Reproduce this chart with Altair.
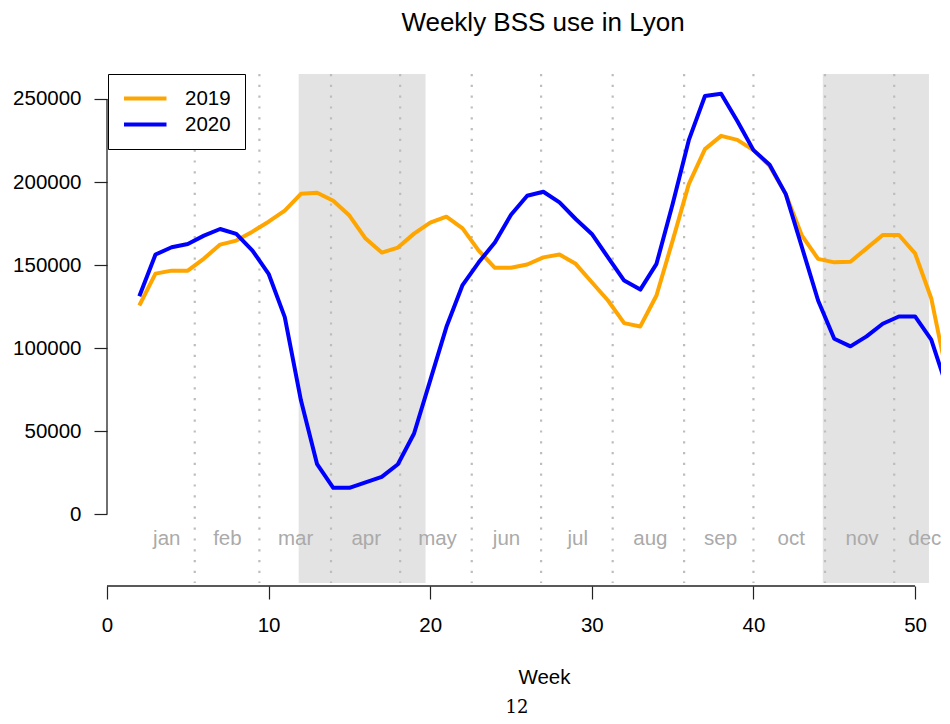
import altair as alt
import pandas as pd

# ---- data ----
weeks = list(range(2, 53))
use_2019 = [125600, 144800, 146600, 146600, 153900, 162300, 164700, 170100, 176100, 182700,
            192900, 193500, 188700, 179800, 165900, 157500, 160500, 168900, 175500, 179100,
            172100, 158700, 148300, 148300, 150300, 154600, 156300, 150700, 139600, 128600,
            115000, 113000, 131600, 164700, 198700, 219800, 227800, 225400, 219200, 209700,
            192700, 167700, 153700, 151600, 152000, 160000, 168100, 168100, 157000, 130000,
            82500]
use_2020 = [131200, 156300, 160700, 162700, 167700, 171700, 168700, 158700, 144700, 118600,
            68500, 30000, 15800, 15800, 19000, 22400, 30000, 48500, 80500, 112600,
            137900, 151600, 163600, 180300, 191700, 194100, 187700, 177700, 168700, 154600,
            140600, 135200, 150700, 186700, 225200, 251800, 253200, 236800, 219200, 210400,
            192700, 160700, 128600, 105600, 101000, 107000, 114600, 119000, 119000, 105000,
            75500]
years = ["2019", "2020"]
year_colors = ["#FFA500", "#0000FF"]

month_names = ["jan", "feb", "mar", "apr", "may", "jun", "jul", "aug", "sep", "oct", "nov", "dec"]
month_label_week = [3.70, 7.45, 11.67, 16.04, 20.45, 24.72, 29.13, 33.62, 37.97, 42.34, 46.72, 50.6]
month_start_week = [5.43, 9.43, 13.86, 18.14, 22.57, 26.86, 31.29, 35.71, 40.0, 44.43, 48.71]
lockdown_start = [11.86, 44.29]
lockdown_end = [19.71, 50.86]
x_ticks = [0, 10, 20, 30, 40, 50]
y_ticks = [0, 50000, 100000, 150000, 200000, 250000]
page_number = ["12"]

# ---- tables ----
df = pd.DataFrame({
    "week": weeks * 2,
    "trips": use_2019 + use_2020,
    "year": [years[0]] * len(weeks) + [years[1]] * len(weeks),
})
shade_df = pd.DataFrame({"start": lockdown_start, "end": lockdown_end})
bound_df = pd.DataFrame({"week": month_start_week})
label_df = pd.DataFrame({"week": month_label_week, "month": month_names})
page_df = pd.DataFrame({"t": page_number})

FONT = "Liberation Sans"
xs = alt.Scale(domain=[0, 52.1], nice=False, zero=False)
ys = alt.Scale(domain=[-43370, 265060], nice=False, zero=False)

x_axis = alt.Axis(values=x_ticks, title="Week", domain=False, grid=False, tickSize=13,
                  tickWidth=1.2, tickColor="#222222", labelFontSize=20.5, labelFont=FONT,
                  labelColor="black", labelPadding=16, labelFlush=False, titleFont=FONT,
                  titleFontSize=20.5, titleFontWeight="normal", titleColor="black",
                  titleX=437, titleY=97, titleBaseline="alphabetic", titleAlign="center")
y_axis = alt.Axis(values=y_ticks, title=None, format="d", domain=False, grid=False, tickSize=13,
                  tickWidth=1.2, tickColor="#222222", labelFontSize=20.5, labelFont=FONT,
                  labelColor="black", labelPadding=13)

PLOT_H = 512

shade = alt.Chart(shade_df).mark_rect(color="#e3e3e3").encode(
    x=alt.X("start:Q", scale=xs, axis=x_axis), x2="end:Q",
    y=alt.value(0), y2=alt.value(PLOT_H - 3),
)
bounds = alt.Chart(bound_df).mark_rule(color="#bdbdbd", strokeWidth=2.2, strokeDash=[2.2, 8.6]).encode(
    x=alt.X("week:Q", scale=xs, axis=x_axis),
    y=alt.value(0), y2=alt.value(PLOT_H - 3),
)
labels = alt.Chart(label_df).mark_text(color="#aaaaaa", fontSize=20.5, font=FONT,
                                       baseline="alphabetic", align="center").encode(
    x=alt.X("week:Q", scale=xs, axis=x_axis), y=alt.value(471), text="month:N",
)
lines = alt.Chart(df).mark_line(strokeWidth=4, clip=True, strokeJoin="round").encode(
    x=alt.X("week:Q", scale=xs, axis=x_axis),
    y=alt.Y("trips:Q", scale=ys, axis=y_axis),
    color=alt.Color("year:N", scale=alt.Scale(domain=years, range=year_colors),
                    legend=alt.Legend(orient="none", legendX=1, legendY=0, title=None,
                                      strokeColor="black", fillColor="white", padding=14,
                                      symbolType="M-1,0H4", symbolSize=289, symbolStrokeWidth=4,
                                      labelFontSize=20.5, labelFont=FONT, labelColor="black",
                                      labelOffset=42, rowPadding=5, cornerRadius=0)),
    order="year:N",
)
x_line = alt.Chart(page_df).mark_rule(color="#222222", strokeWidth=1.3).encode(
    x=alt.datum(x_ticks[0]), x2=alt.datum(x_ticks[-1]), y=alt.value(PLOT_H),
)
y_line = alt.Chart(page_df).mark_rule(color="#222222", strokeWidth=1.3).encode(
    y=alt.datum(y_ticks[0]), y2=alt.datum(y_ticks[-1]), x=alt.value(0),
)
page = alt.Chart(page_df).mark_text(font="DejaVu Serif", fontSize=18, color="black",
                                    baseline="alphabetic", align="center").encode(
    text="t:N", x=alt.value(410), y=alt.value(639),
)

chart = alt.layer(shade, bounds, labels, lines, x_line, y_line, page).properties(
    width=842, height=PLOT_H,
    title=alt.TitleParams("Weekly BSS use in Lyon", fontSize=26, font=FONT, fontWeight="normal",
                          color="black", anchor="middle", dx=15, offset=37),
    autosize=alt.AutoSizeParams(type="none"),
    padding={"left": 99, "top": 66, "right": -8, "bottom": 130},
).configure_view(stroke=None)

chart.save("out.html", embed_options={"renderer": "svg", "actions": False})
